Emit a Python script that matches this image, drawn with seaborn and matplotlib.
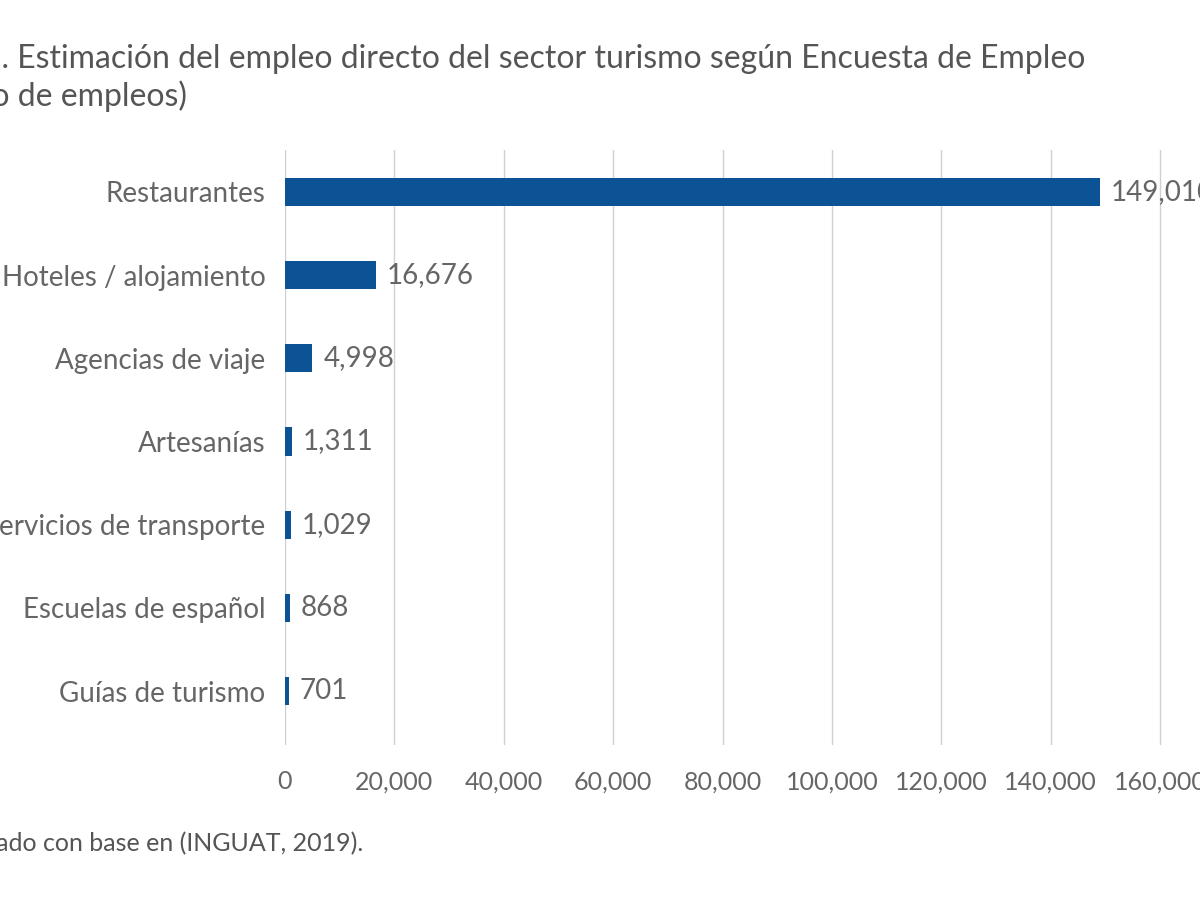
import matplotlib
matplotlib.use("Agg")
import matplotlib.pyplot as plt
import seaborn as sns
import pandas as pd

categories = ["Restaurantes", "Hoteles / alojamiento", "Agencias de viaje", "Artesanías",
              "Servicios de transporte", "Escuelas de español", "Guías de turismo"]
values = [149010, 16676, 4998, 1311, 1029, 868, 701]
xticks = [0, 20000, 40000, 60000, 80000, 100000, 120000, 140000, 160000]

plt.rcParams["font.family"] = "Lato"
df = pd.DataFrame({"cat": categories, "val": values})
fig = plt.figure(figsize=(12, 9), dpi=100)
fig.patch.set_facecolor("white")
ax = fig.add_axes([0.2375, 0.172, 0.7625, 0.661])
sns.barplot(data=df, y="cat", x="val", orient="h", color="#0b5394", width=0.34,
            saturation=1, ax=ax, zorder=3)
ax.set_xlim(0, 167300)
ax.set_ylim(6.65, -0.5)
ax.set_xticks(xticks)
ax.set_xticklabels([f"{t:,}" for t in xticks])
ax.grid(axis="x", color="#d0d0d0", linewidth=1, zorder=0)
ax.grid(axis="y", visible=False)
for s in ax.spines.values():
    s.set_visible(False)
ax.tick_params(length=0, colors="#666666")
ax.tick_params(axis="x", pad=18, labelsize=18)
ax.tick_params(axis="y", pad=14, labelsize=20)
ax.set_xlabel("")
ax.set_ylabel("")
for i, v in enumerate(values):
    ax.text(v + 2000, i, f"{v:,}", va="center", ha="left", fontsize=20, color="#666666")
fig.text(-0.014, 0.935, "1. Estimación del empleo directo del sector turismo según Encuesta de Empleo",
         fontsize=23, color="#555555", ha="left", va="center")
fig.text(-0.09, 0.893, "(número de empleos)", fontsize=23, color="#555555", ha="left", va="center")
fig.text(-0.058, 0.063, "Adaptado con base en (INGUAT, 2019).", fontsize=18, color="#555555",
         ha="left", va="center")
fig.savefig("out.png", dpi=100)
